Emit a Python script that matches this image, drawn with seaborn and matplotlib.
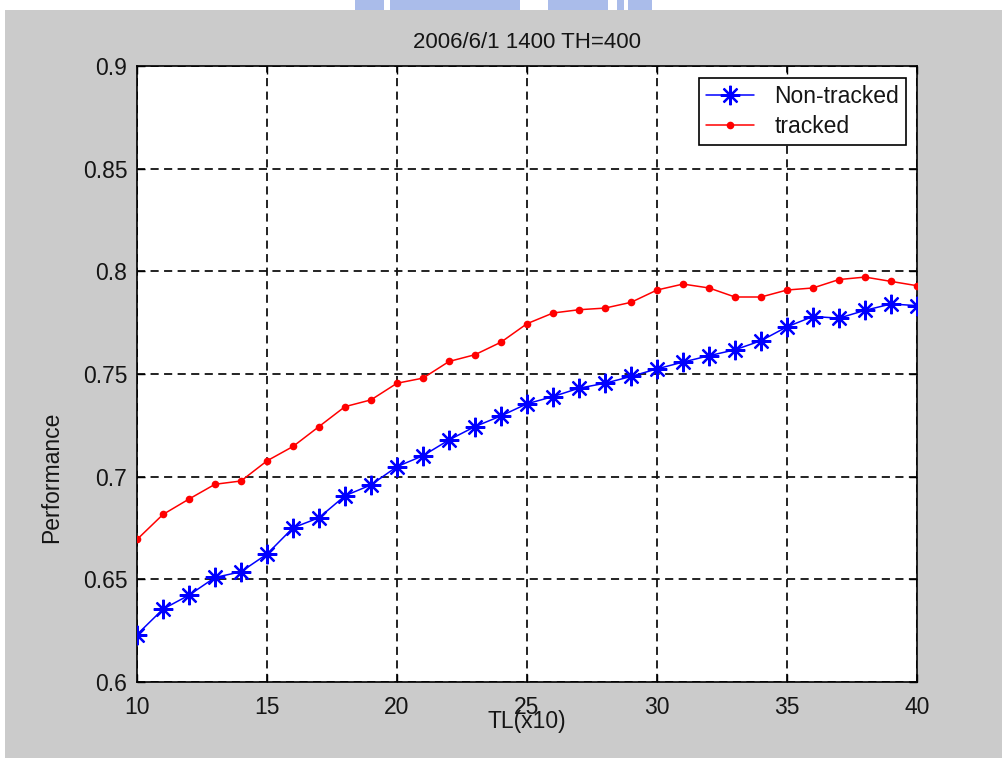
import numpy as np
import pandas as pd
import matplotlib
matplotlib.use("Agg")
import matplotlib.pyplot as plt
from matplotlib.patches import Rectangle
import seaborn as sns

# TL values (x10)
tl = list(range(10, 41))

non_tracked = [0.6231, 0.6355, 0.6423, 0.6509, 0.6537, 0.6623, 0.6751, 0.6800,
               0.6907, 0.6960, 0.7049, 0.7102, 0.7179, 0.7244, 0.7296, 0.7355,
               0.7390, 0.7431, 0.7455, 0.7488, 0.7525, 0.7558, 0.7589, 0.7618,
               0.7662, 0.7730, 0.7780, 0.7772, 0.7810, 0.7841, 0.7833]

tracked = [0.6694, 0.6816, 0.6891, 0.6963, 0.6979, 0.7077, 0.7147, 0.7244,
           0.7341, 0.7374, 0.7455, 0.7480, 0.7561, 0.7594, 0.7655, 0.7745,
           0.7797, 0.7813, 0.7821, 0.7849, 0.7909, 0.7938, 0.7919, 0.7875,
           0.7875, 0.7909, 0.7919, 0.7960, 0.7972, 0.7951, 0.7930]

series_names = ["Non-tracked", "tracked"]
x_ticks = [10, 15, 20, 25, 30, 35, 40]
y_ticks = [0.6, 0.65, 0.7, 0.75, 0.8, 0.85, 0.9]
y_tick_labels = ["0.6", "0.65", "0.7", "0.75", "0.8", "0.85", "0.9"]
title = "2006/6/1 1400 TH=400"

sns.set_style("white")
plt.rcParams["font.family"] = ["Liberation Sans", "DejaVu Sans"]

W, H = 1002, 758
fig = plt.figure(figsize=(W / 100, H / 100), dpi=100, facecolor="white")

# grey window area with a thin white margin at top and left
GREY = "#cbcbcb"
fig.patches.append(Rectangle((5 / W, 0), 1, 1 - 10 / H, transform=fig.transFigure,
                             facecolor=GREY, edgecolor="none", zorder=-10))
# light blue emblem fragment peeking in at the top edge
for x0, x1 in [(355, 384), (390, 520), (548, 608), (617, 624), (628, 652)]:
    fig.patches.append(Rectangle((x0 / W, 1 - 10 / H), (x1 - x0) / W, 10 / H,
                                 transform=fig.transFigure, facecolor="#aabcea",
                                 edgecolor="none", zorder=-9))

left, right, top, bottom = 137, 917, 66, 682
ax = fig.add_axes([left / W, 1 - bottom / H, (right - left) / W, (bottom - top) / H])
ax.set_facecolor("white")

df = pd.DataFrame({"TL": tl * 2,
                   "Performance": non_tracked + tracked,
                   "series": [series_names[0]] * len(tl) + [series_names[1]] * len(tl)})

sns.lineplot(data=df[df.series == series_names[0]], x="TL", y="Performance", ax=ax,
             color="#0000ff", linewidth=1.1, marker=(8, 2, 0), markersize=14,
             markeredgewidth=1.6, markeredgecolor="#0000ff",
             label=series_names[0], zorder=3)
sns.lineplot(data=df[df.series == series_names[1]], x="TL", y="Performance", ax=ax,
             color="#ff0000", linewidth=1.1, marker="o", markersize=5.5,
             markeredgewidth=0, markerfacecolor="#ff0000",
             label=series_names[1], zorder=3)

ax.set_xlim(10, 40)
ax.set_ylim(0.6, 0.9)
ax.set_xticks(x_ticks)
ax.set_xticklabels([str(v) for v in x_ticks])
ax.set_yticks(y_ticks)
ax.set_yticklabels(y_tick_labels)

ax.grid(True, color="#111111", linestyle=(0, (4.5, 3)), linewidth=1.3)
ax.set_axisbelow(True)
for s in ax.spines.values():
    s.set_visible(True)
    s.set_color("black")
    s.set_linewidth(1.2)

ax.tick_params(axis="both", which="both", direction="in", length=6, width=1,
               color="black", labelsize=16.5, top=True, right=True,
               bottom=True, left=True, labelcolor="#151515")
ax.tick_params(axis="x", pad=10)
ax.tick_params(axis="y", pad=7)

ax.set_title(title, fontsize=16, pad=13, color="#151515")
ax.set_xlabel("TL(x10)", fontsize=16.5, color="#151515")
ax.set_ylabel("Performance", fontsize=16.5, color="#151515")
ax.xaxis.set_label_coords(0.5, -0.046)
ax.yaxis.set_label_coords(-0.095, 0.333)

leg = ax.legend(loc="upper right", bbox_to_anchor=((906 - left) / (right - left),
                                                   (bottom - 78) / (bottom - top)),
                fontsize=16.5, frameon=True, fancybox=False, framealpha=1,
                edgecolor="black", borderpad=0.3, labelspacing=0.3,
                handlelength=2.1, handletextpad=0.9, borderaxespad=0)
leg.get_frame().set_linewidth(1.2)
for t in leg.get_texts():
    t.set_color("#151515")

fig.savefig("out.png", dpi=100, facecolor=fig.get_facecolor())
